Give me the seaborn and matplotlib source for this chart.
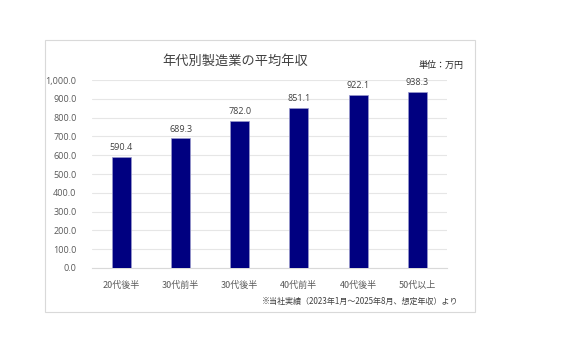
import numpy as np
import pandas as pd
import matplotlib
matplotlib.use("Agg")
import matplotlib.pyplot as plt
import seaborn as sns
from matplotlib.patches import Rectangle
from matplotlib.ticker import FuncFormatter

ages = ['20代後半', '30代前半', '30代後半', '40代前半', '40代後半', '50代以上']
income = [590.4, 689.3, 782.0, 851.1, 922.1, 938.3]

sns.set_style('white')
plt.rcParams['font.family'] = ['Noto Sans CJK JP', 'DejaVu Sans']
num_font = ['Open Sans', 'Noto Sans CJK JP']

df = pd.DataFrame({'age': ages, 'income': income})

fig = plt.figure(figsize=(5.67, 3.59), dpi=100)
fig.patches.append(Rectangle((0.079, 0.131), 0.758, 0.758, transform=fig.transFigure,
                             fill=False, edgecolor='#d9d9d9', linewidth=0.8))
ax = fig.add_axes([0.162, 0.2535, 0.626, 0.5236])

sns.barplot(data=df, x='age', y='income', color='#000080', width=0.32,
            edgecolor='#9999cc', linewidth=0.5, saturation=1, ax=ax, zorder=3)

ax.set_ylim(0, 1000)
ax.set_yticks(np.arange(0, 1001, 100))
ax.yaxis.set_major_formatter(FuncFormatter(lambda v, p: f'{v:,.1f}'))
ax.grid(axis='y', color='#e6e6e6', linewidth=0.8, zorder=0)
ax.set_xlim(-0.5, 5.5)
for s in ['top', 'right', 'left']:
    ax.spines[s].set_visible(False)
ax.spines['bottom'].set_color('#d9d9d9')
ax.tick_params(axis='x', length=0, labelsize=6.5, labelcolor='#595959', pad=9)
ax.tick_params(axis='y', length=0, pad=11, labelsize=6.5, labelcolor='#595959')
for lab in ax.get_yticklabels():
    lab.set_family(num_font)
ax.set_xlabel('')
ax.set_ylabel('')

for i, v in enumerate(income):
    ax.text(i, v + 25, f'{v:.1f}', ha='center', va='bottom', fontsize=6.5,
            color='#404040', family=num_font)

fig.text(0.415, 0.83, '年代別製造業の平均年収', ha='center', va='center', fontsize=9.5, color='#404040')
fig.text(0.778, 0.818, '単位：万円', ha='center', va='center', fontsize=6.5, color='#262626')
fig.text(0.808, 0.161, '※当社実績（2023年1月～2025年8月、想定年収）より', ha='right', va='center',
         fontsize=5.8, color='#404040')

fig.savefig('out.png', dpi=100)
